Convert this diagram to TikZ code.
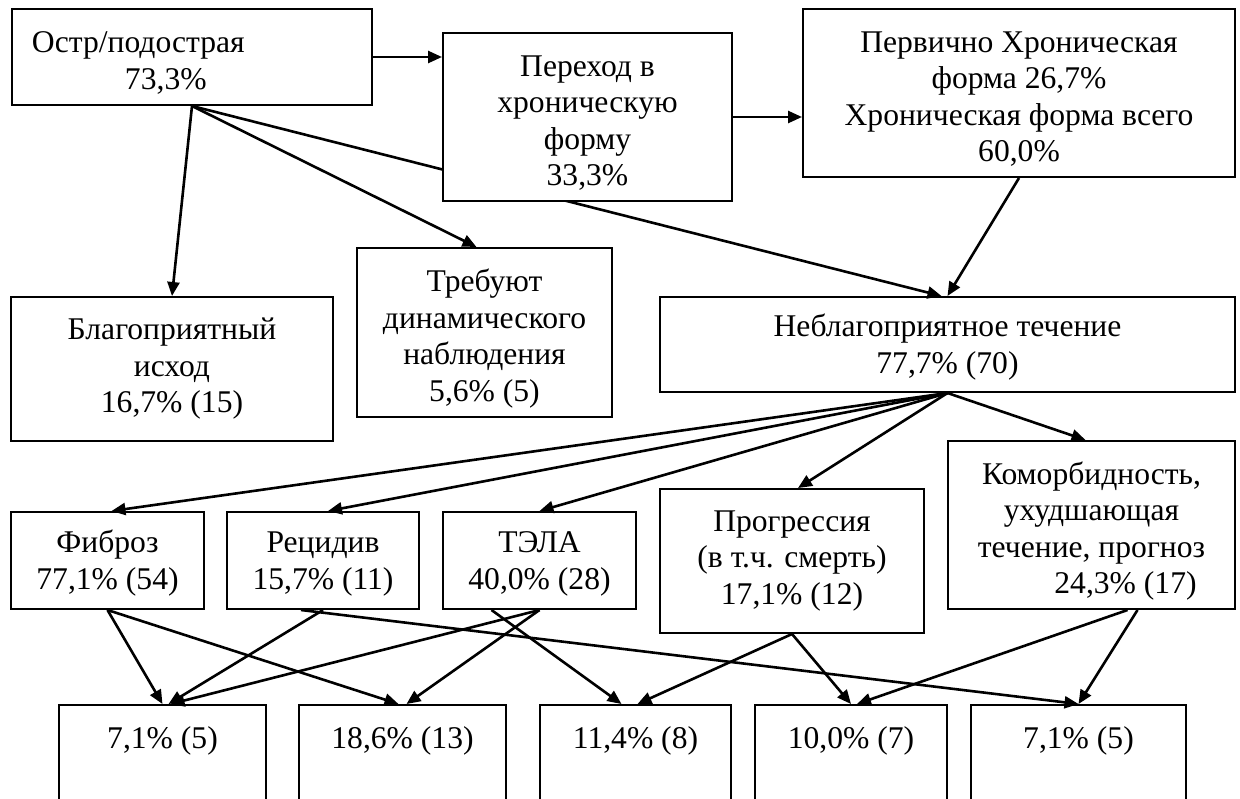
\documentclass[tikz,border=0pt]{standalone}
\usepackage{fontspec}
\setmainfont{Liberation Serif}
\usetikzlibrary{arrows.meta}
% struts that push the text a bit lower in its box
\newcommand\tfix[1]{\rule{0pt}{#1}}
\newcommand\bfix{\rule[-4pt]{0pt}{4pt}}

\begin{document}
\begin{tikzpicture}[
x=0.5pt, y=-0.5pt,
box/.style={
  draw,
  line width=1pt,
  fill=white,
  inner sep=0pt,
  align=center,
  font=\fontsize{15.8pt}{18.25pt}\selectfont
},
res/.style={
  box,
  anchor=north,
  text height=21.75pt,
  text depth=41pt
},
arr/.style={
  -{Triangle[length=7pt,width=6pt]},
  line width=1.3pt
}
]
\useasboundingbox (0,0) rectangle (1240,798);
\clip (0,0) rectangle (1240,798);

% upper part
\node[box, minimum width=180pt, minimum height=48pt, text width=160pt,
  align=left, inner xsep=10pt] (ostr) at (192,57)
  {\tfix{18pt}Остр/подострая\\\hspace*{46.5pt}73,3\%\bfix};
\node[box, minimum width=216pt, minimum height=84pt] (perv) at (1019,93)
  {\tfix{18pt}Первично Хроническая\\форма 26,7\%\\Хроническая форма всего\\60,0\%\bfix};
\node[box, minimum width=287.5pt, minimum height=47.5pt] (nebl) at (947.5,344.5)
  {\tfix{14.5pt}Неблагоприятное течение\\77,7\% (70)\bfix};
\node[box, minimum width=161pt, minimum height=72pt] (blag) at (172,369)
  {Благоприятный\\исход\\16,7\% (15)};
\node[box, minimum width=127.5pt, minimum height=84.5pt] (treb) at (484.5,332.5)
  {\tfix{18pt}Требуют\\динамического\\наблюдения\\5,6\% (5)\bfix};

% this one runs behind the box below
\draw[arr] (ostr.south) -- ([xshift=-3pt]nebl.north);
\node[box, minimum width=144.5pt, minimum height=84pt] (perehod) at (587.5,117)
  {\tfix{18pt}Переход в\\хроническую\\форму\\33,3\%\bfix};

% outcomes
\node[box, minimum width=96.5pt, minimum height=48.5pt] (fibr) at (107.5,560.5)
  {\tfix{14.5pt}Фиброз\\77,1\% (54)\bfix};
\node[box, minimum width=96pt, minimum height=48.5pt] (recid) at (323,560.5)
  {\tfix{14.5pt}Рецидив\\15,7\% (11)\bfix};
\node[box, minimum width=96.5pt, minimum height=48.5pt] (tela) at (539.5,560.5)
  {\tfix{14.5pt}ТЭЛА\\40,0\% (28)\bfix};
\node[box, minimum width=132pt, minimum height=72pt] (progr) at (792,561)
  {Прогрессия\\(в т.ч. смерть)\\17,1\% (12)};
\node[box, minimum width=143.5pt, minimum height=84pt] (komorb) at (1091.5,525)
  {\tfix{18pt}Коморбидность,\\ухудшающая\\течение, прогноз\\\hspace*{34pt}24,3\% (17)\bfix};

% bottom row
\node[res, minimum width=103.5pt] (r1) at (162.5,704) {7,1\% (5)};
\node[res, minimum width=103.5pt] (r2) at (402.5,704) {18,6\% (13)};
\node[res, minimum width=95.5pt] (r3) at (635.5,704) {11,4\% (8)};
\node[res, minimum width=96pt] (r4) at (851,704) {10,0\% (7)};
\node[res, minimum width=107.5pt] (r5) at (1078.5,704) {7,1\% (5)};

\draw[arr] (ostr.east) -- (ostr.east -| perehod.west);
\draw[arr] (perehod.east) -- (perehod.east -| perv.west);
\draw[arr] (ostr.south) -- (blag.north);
\draw[arr] (ostr.south) -- ([xshift=-4pt]treb.north);
\draw[arr] (perv.south) -- (nebl.north);

\draw[arr] (nebl.south) -- ([xshift=2pt]fibr.north);
\draw[arr] (nebl.south) -- ([xshift=2.5pt]recid.north);
\draw[arr] (nebl.south) -- (tela.north);
\draw[arr] (nebl.south) -- ([xshift=3pt]progr.north);
\draw[arr] (nebl.south) -- ([xshift=-3pt]komorb.north);

\draw[arr] (fibr.south) -- (r1.north);
\draw[arr] (fibr.south) -- ([xshift=-2pt]r2.north);
\draw[arr] (recid.south) -- ([xshift=3pt]r1.north);
\draw[arr] ([xshift=-11pt]recid.south) -- (r5.north);
\draw[arr] (tela.south) -- ([xshift=4pt]r1.north);
\draw[arr] (tela.south) -- ([xshift=2pt]r2.north);
\draw[arr] ([xshift=-24pt]tela.south) -- ([xshift=-7pt]r3.north);
\draw[arr] (progr.south) -- ([xshift=1pt]r3.north);
\draw[arr] (progr.south) -- (r4.north);
\draw[arr] ([xshift=18pt]komorb.south) -- ([xshift=3pt]r4.north);
\draw[arr] ([xshift=23pt]komorb.south) -- (r5.north);
\end{tikzpicture}
\end{document}
